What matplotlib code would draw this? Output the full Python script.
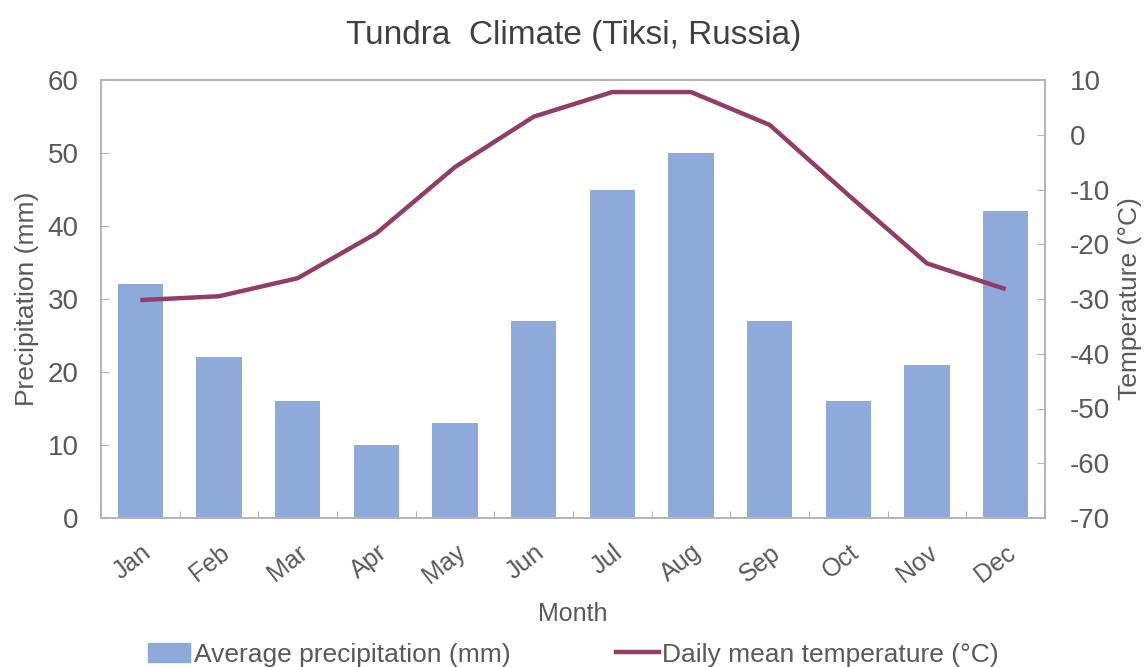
import matplotlib.pyplot as plt
from matplotlib.patches import Patch
from matplotlib.lines import Line2D
import numpy as np

months = ["Jan", "Feb", "Mar", "Apr", "May", "Jun",
          "Jul", "Aug", "Sep", "Oct", "Nov", "Dec"]
precip_mm = [32, 22, 16, 10, 13, 27, 45, 50, 27, 16, 21, 42]
temp_c = [-30.2, -29.5, -26.2, -18.0, -5.9, 3.3, 7.8, 7.8, 1.8, -11.0, -23.5, -28.2]

bar_color = "#8eaadb"
line_color = "#913d68"
text_color = "#595959"
spine_color = "#b3b3b3"

plt.rcParams['font.family'] = ['Liberation Sans', 'DejaVu Sans']
plt.rcParams['axes.unicode_minus'] = False

fig = plt.figure(figsize=(11.47, 6.67), dpi=100)
ax = fig.add_axes([101 / 1147, 149 / 667, 944 / 1147, 438 / 667])
ax2 = ax.twinx()

x = np.arange(len(months))
ax.bar(x, precip_mm, width=0.58, color=bar_color, zorder=2)
ax2.plot(x, temp_c, color=line_color, lw=3.2, solid_capstyle='butt', zorder=3)

ax.set_xlim(-0.5, 11.5)
ax.set_ylim(0, 60)
ax2.set_ylim(-70, 10)
ax.set_yticks(range(0, 61, 10))
ax2.set_yticks(range(-70, 11, 10))

# category ticks sit between bars, labels at bar centres
ax.set_xticks(np.arange(-0.5, 12, 1))
ax.set_xticklabels([])
ax.set_xticks(x, minor=True)
ax.set_xticklabels(months, minor=True, rotation=38, ha='right',
                   rotation_mode='anchor', fontsize=18, color=text_color)
ax.tick_params(axis='x', which='minor', length=0, pad=16)
ax.tick_params(axis='x', which='major', direction='in', length=5, color=spine_color)

ax.tick_params(axis='y', direction='in', length=6, color=spine_color,
               labelsize=20, labelcolor=text_color, pad=16)
ax2.tick_params(axis='y', direction='in', length=6, color=spine_color,
                labelsize=20, labelcolor=text_color, pad=18)
for a in (ax, ax2):
    for s in a.spines.values():
        s.set_color(spine_color)
        s.set_linewidth(1.2)

ax.set_ylabel("Precipitation (mm)", fontsize=19, color=text_color, labelpad=6)
ax2.set_ylabel("Temperature (°C)", fontsize=19, color=text_color)
ax2.yaxis.set_label_coords(1.077, 0.5)
ax.set_xlabel("Month", fontsize=18, color=text_color, labelpad=10)

fig.suptitle("Tundra  Climate (Tiksi, Russia)", fontsize=24, color="#404040", y=0.97)

handles = [Patch(color=bar_color), Line2D([0], [0], color=line_color, lw=3.2)]
fig.legend(handles, ["Average precipitation (mm)", "Daily mean temperature (°C)"],
           loc='lower center', bbox_to_anchor=(0.5, -0.035), ncol=2, frameon=False,
           fontsize=19, labelcolor=text_color, handlelength=1.6, handletextpad=0.15,
           columnspacing=4)

fig.savefig("out.png", dpi=100)
